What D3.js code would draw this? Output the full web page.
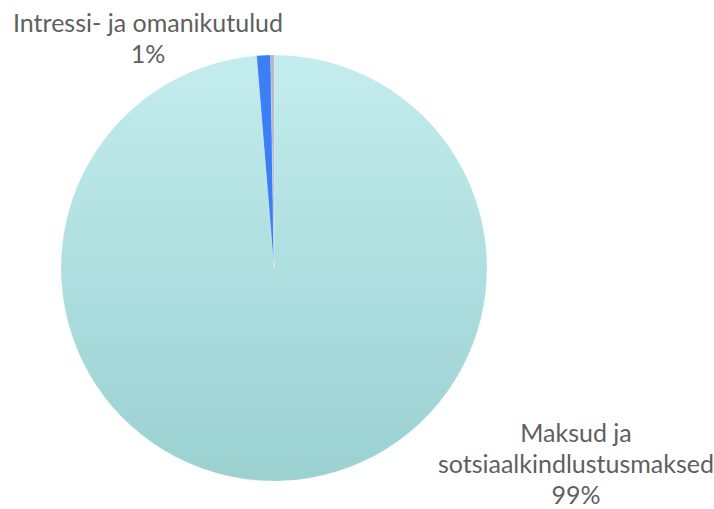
<!DOCTYPE html>
<html>
<head>
<meta charset="utf-8">
<script src="https://cdn.jsdelivr.net/npm/d3@7"></script>
<style>
  html, body { margin: 0; padding: 0; background: #fff; }
  svg { display: block; }
  text { font-family: Lato, "Open Sans", sans-serif; fill: #5f5f5f; }
</style>
</head>
<body>
<svg id="chart" width="714" height="509"></svg>
<script>
// Revenue structure shares (%)
const categories = ["Maksud ja sotsiaalkindlustusmaksed", "Intressi- ja omanikutulud", "Muud tulud"];
const values = [98.7, 1.05, 0.25];
const labelLines = [["Maksud ja", "sotsiaalkindlustusmaksed", "99%"], ["Intressi- ja omanikutulud", "1%"], null];
const colors = ["url(#mainFill)", "#3b7ff6", "#b9b4c6"];

const svg = d3.select("#chart");
const cx = 274, cy = 268, r = 213;

// Vertical shading of the main slice (coordinates relative to the pie centre)
const defs = svg.append("defs");
const grad = defs.append("linearGradient")
  .attr("id", "mainFill").attr("gradientUnits", "userSpaceOnUse")
  .attr("x1", 0).attr("y1", -r).attr("x2", 0).attr("y2", r);
grad.append("stop").attr("offset", "0%").attr("stop-color", "#c3ecee");
grad.append("stop").attr("offset", "100%").attr("stop-color", "#9bd1d1");

const pie = d3.pie().sort(null).value(d => d);
const arc = d3.arc().innerRadius(0).outerRadius(r);
const arcs = pie(values);

const g = svg.append("g").attr("transform", `translate(${cx},${cy})`);
g.selectAll("path.slice")
  .data(arcs)
  .join("path")
  .attr("class", "slice")
  .attr("d", arc)
  .attr("fill", (d, i) => colors[i])
  .attr("stroke", "#ffffff")
  .attr("stroke-opacity", 0.4)
  .attr("stroke-width", 0.5);

// Data labels
const fontSize = 25, lineH = 31;
function drawLabel(lines, x, firstBaseline) {
  const t = svg.append("g");
  lines.forEach((s, k) => {
    t.append("text")
      .attr("x", x)
      .attr("y", firstBaseline + k * lineH)
      .attr("text-anchor", "middle")
      .attr("font-size", fontSize)
      .text(s);
  });
}
drawLabel(labelLines[0], 576, 442);
drawLabel(labelLines[1], 148, 32);
</script>
</body>
</html>
